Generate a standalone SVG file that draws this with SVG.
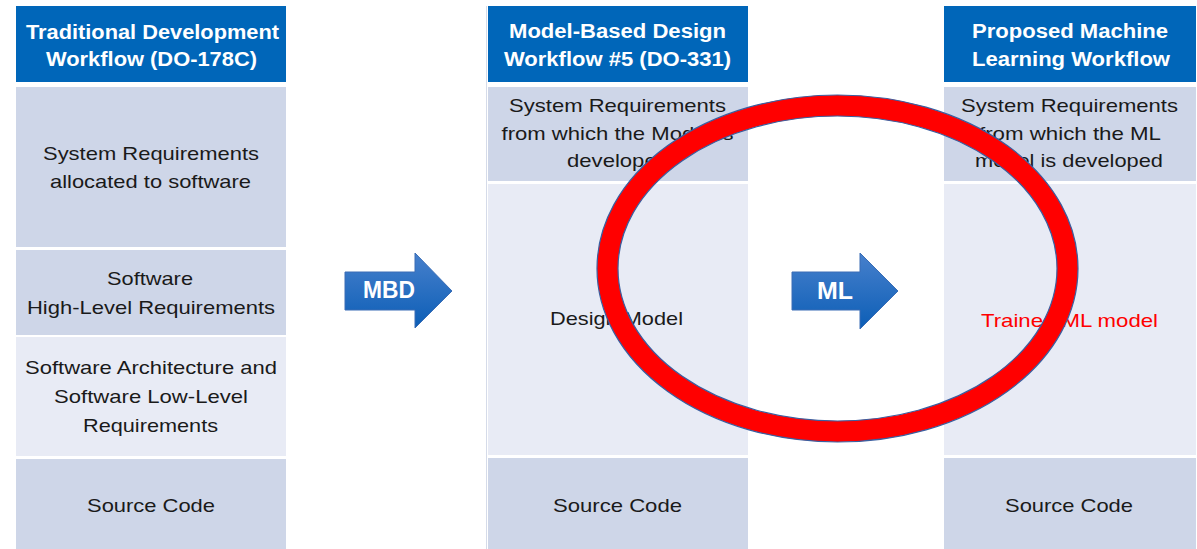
<svg xmlns="http://www.w3.org/2000/svg" width="1197" height="549" viewBox="0 0 1197 549">
<defs>
<linearGradient id="arrowGrad" x1="0" y1="0" x2="0" y2="1">
<stop offset="0" stop-color="#4780cc"/>
<stop offset="1" stop-color="#0c5eb6"/>
</linearGradient>
<style>
.hdr{fill:#0066b9}
.dark{fill:#ced6e8}
.light{fill:#e8ebf5}
.ht{font-family:"Liberation Sans",Arial,sans-serif;font-weight:bold;font-size:20px;fill:#ffffff;text-anchor:middle}
.bt{font-family:"Liberation Sans",Arial,sans-serif;font-size:19px;fill:#1a1a1a;text-anchor:middle}
.rt{font-family:"Liberation Sans",Arial,sans-serif;font-size:19px;fill:#ff0000;text-anchor:middle}
.arrow{fill:url(#arrowGrad);stroke:#3a6db5;stroke-width:1}
.at{font-family:"Liberation Sans",Arial,sans-serif;font-weight:bold;fill:#ffffff;text-anchor:middle}
.ring{fill:#ff0000;fill-rule:evenodd;stroke:#3a5fa0;stroke-width:1.2}
</style>
</defs>
<rect width="1197" height="549" fill="#ffffff"/>

<g id="col1">
<g id="col1-header"><rect class="hdr" x="16" y="6" width="270" height="76"/>
<text class="ht" x="152.5" y="39" textLength="253" lengthAdjust="spacingAndGlyphs">Traditional Development</text>
<text class="ht" x="151.5" y="66" textLength="211" lengthAdjust="spacingAndGlyphs">Workflow (DO-178C)</text></g>
<g id="col1-sysreq"><rect class="dark" x="16" y="87" width="270" height="160"/>
<text class="bt" x="151" y="160" textLength="216" lengthAdjust="spacingAndGlyphs">System Requirements</text>
<text class="bt" x="150.5" y="188" textLength="201" lengthAdjust="spacingAndGlyphs">allocated to software</text></g>
<g id="col1-hlr"><rect class="dark" x="16" y="250" width="270" height="85"/>
<text class="bt" x="150" y="285" textLength="86" lengthAdjust="spacingAndGlyphs">Software</text>
<text class="bt" x="151" y="314" textLength="248" lengthAdjust="spacingAndGlyphs">High-Level Requirements</text></g>
<g id="col1-llr"><rect class="light" x="16" y="337" width="270" height="119"/>
<text class="bt" x="151" y="374" textLength="252" lengthAdjust="spacingAndGlyphs">Software Architecture and</text>
<text class="bt" x="151" y="403" textLength="194" lengthAdjust="spacingAndGlyphs">Software Low-Level</text>
<text class="bt" x="150.5" y="432" textLength="135" lengthAdjust="spacingAndGlyphs">Requirements</text></g>
<g id="col1-src"><rect class="dark" x="16" y="459" width="270" height="90"/>
<text class="bt" x="151" y="512" textLength="128" lengthAdjust="spacingAndGlyphs">Source Code</text></g>
</g>

<g id="col2">
<line x1="486.5" y1="6" x2="486.5" y2="549" stroke="#d5dbe9" stroke-width="1"/>
<g id="col2-header"><rect class="hdr" x="488" y="6" width="260" height="76"/>
<text class="ht" x="617.5" y="38" textLength="217" lengthAdjust="spacingAndGlyphs">Model-Based Design</text>
<text class="ht" x="617.5" y="66" textLength="227" lengthAdjust="spacingAndGlyphs">Workflow #5 (DO-331)</text></g>
<g id="col2-sysreq"><rect class="dark" x="488" y="87" width="260" height="94"/>
<text class="bt" x="617.5" y="112" textLength="217" lengthAdjust="spacingAndGlyphs">System Requirements</text>
<text class="bt" x="617.5" y="140" textLength="232" lengthAdjust="spacingAndGlyphs">from which the Model is</text>
<text class="bt" x="618" y="167" textLength="102" lengthAdjust="spacingAndGlyphs">developed</text></g>
<g id="col2-model"><rect class="light" x="488" y="184" width="260" height="271"/>
<text class="bt" x="616.5" y="325" textLength="133" lengthAdjust="spacingAndGlyphs">Design Model</text></g>
<g id="col2-src"><rect class="dark" x="488" y="458" width="260" height="91"/>
<text class="bt" x="617.5" y="512" textLength="129" lengthAdjust="spacingAndGlyphs">Source Code</text></g>
</g>

<g id="col3">
<g id="col3-header"><rect class="hdr" x="944" y="6" width="252" height="76"/>
<text class="ht" x="1070" y="38" textLength="196" lengthAdjust="spacingAndGlyphs">Proposed Machine</text>
<text class="ht" x="1071" y="66" textLength="198" lengthAdjust="spacingAndGlyphs">Learning Workflow</text></g>
<g id="col3-sysreq"><rect class="dark" x="944" y="87" width="252" height="94"/>
<text class="bt" x="1069.5" y="112" textLength="217" lengthAdjust="spacingAndGlyphs">System Requirements</text>
<text class="bt" x="1070" y="140" textLength="182" lengthAdjust="spacingAndGlyphs">from which the ML</text>
<text class="bt" x="1069" y="167" textLength="188" lengthAdjust="spacingAndGlyphs">model is developed</text></g>
<g id="col3-model"><rect class="light" x="944" y="184" width="252" height="271"/>
<text class="rt" x="1069.5" y="327" textLength="177" lengthAdjust="spacingAndGlyphs">Trained ML model</text></g>
<g id="col3-src"><rect class="dark" x="944" y="458" width="252" height="91"/>
<text class="bt" x="1069" y="512" textLength="128" lengthAdjust="spacingAndGlyphs">Source Code</text></g>
</g>

<g id="connectors">
<g id="arrow-mbd">
<path class="arrow" d="M345,272 L415,272 L415,253 L452,291 L415,328 L415,310 L345,310 Z"/>
<text class="at" x="389" y="298" font-size="23" textLength="52" lengthAdjust="spacingAndGlyphs">MBD</text>
</g>
<g id="arrow-ml">
<path class="arrow" d="M792,272 L860,272 L860,253 L898,291 L860,329 L860,310 L792,310 Z"/>
<text class="at" x="835" y="299" font-size="24" textLength="36" lengthAdjust="spacingAndGlyphs">ML</text>
</g>
</g>

<g id="highlight-ellipse">
<path class="ring" d="M597,268.5 a240.5,173.5 0 1,0 481,0 a240.5,173.5 0 1,0 -481,0 Z M618,268.5 a219.5,152.5 0 1,0 439,0 a219.5,152.5 0 1,0 -439,0 Z"/>
</g>
</svg>
